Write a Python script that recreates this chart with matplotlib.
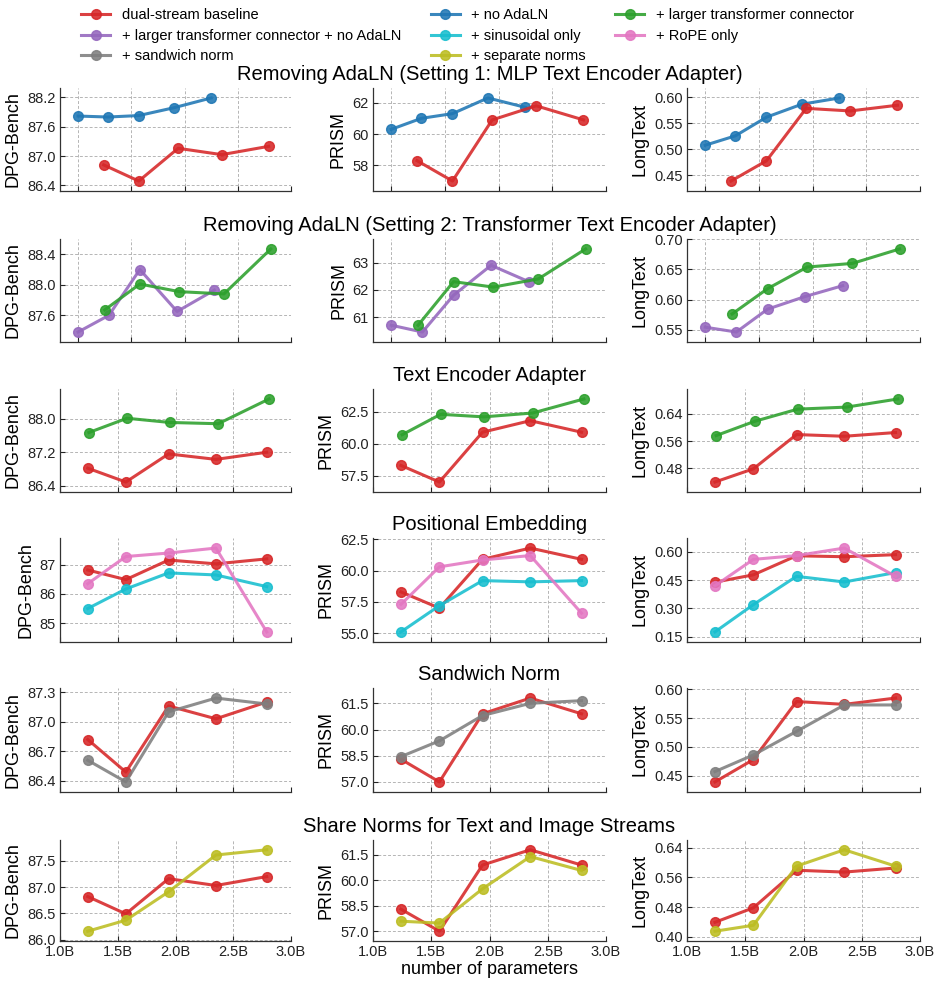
import matplotlib
matplotlib.use("Agg")
import matplotlib.pyplot as plt
from matplotlib.lines import Line2D

plt.rcParams['font.family'] = ['Liberation Sans', 'DejaVu Sans']

# ---------------- data ----------------
x_base = [1.24, 1.57, 1.94, 2.35, 2.79]
x_no_adaln = [1.00, 1.28, 1.57, 1.90, 2.25]
x_larger = [1.25, 1.58, 1.95, 2.37, 2.81]
x_larger_no_adaln = [1.00, 1.29, 1.58, 1.93, 2.28]

base_dpg = [86.82, 86.49, 87.16, 87.03, 87.20]
base_prism = [58.3, 57.0, 60.9, 61.8, 60.9]
base_long = [0.439, 0.478, 0.579, 0.574, 0.585]

no_adaln_dpg = [87.82, 87.80, 87.83, 87.99, 88.19]
no_adaln_prism = [60.3, 61.0, 61.3, 62.3, 61.7]
no_adaln_long = [0.508, 0.526, 0.562, 0.587, 0.599]

larger_dpg = [87.67, 88.01, 87.91, 87.88, 88.47]
larger_prism = [60.7, 62.3, 62.1, 62.4, 63.5]
larger_long = [0.576, 0.618, 0.654, 0.660, 0.684]

larger_no_adaln_dpg = [87.38, 87.60, 88.20, 87.65, 87.93]
larger_no_adaln_prism = [60.7, 60.45, 61.8, 62.9, 62.3]
larger_no_adaln_long = [0.554, 0.546, 0.584, 0.605, 0.623]

sin_dpg = [85.50, 86.17, 86.72, 86.65, 86.25]
sin_prism = [55.1, 57.2, 59.2, 59.1, 59.2]
sin_long = [0.175, 0.320, 0.470, 0.440, 0.490]

rope_dpg = [86.35, 87.28, 87.40, 87.57, 84.70]
rope_prism = [57.3, 60.3, 60.85, 61.2, 56.6]
rope_long = [0.420, 0.560, 0.580, 0.620, 0.470]

sandwich_dpg = [86.61, 86.39, 87.10, 87.24, 87.18]
sandwich_prism = [58.45, 59.35, 60.8, 61.5, 61.65]
sandwich_long = [0.457, 0.486, 0.527, 0.573, 0.573]

sep_dpg = [86.16, 86.37, 86.91, 87.61, 87.71]
sep_prism = [57.59, 57.48, 59.50, 61.40, 60.58]
sep_long = [0.415, 0.431, 0.590, 0.634, 0.590]

row_titles = [
    "Removing AdaLN (Setting 1: MLP Text Encoder Adapter)",
    "Removing AdaLN (Setting 2: Transformer Text Encoder Adapter)",
    "Text Encoder Adapter",
    "Positional Embedding",
    "Sandwich Norm",
    "Share Norms for Text and Image Streams",
]
metric_labels = ["DPG-Bench", "PRISM", "LongText"]
x_ticks = [1.0, 1.5, 2.0, 2.5, 3.0]
x_ticklabels = ["1.0B", "1.5B", "2.0B", "2.5B", "3.0B"]

y_ticks = [
    [[86.4, 87.0, 87.6, 88.2], [58, 60, 62], [0.45, 0.50, 0.55, 0.60]],
    [[87.6, 88.0, 88.4], [61, 62, 63], [0.55, 0.60, 0.65, 0.70]],
    [[86.4, 87.2, 88.0], [57.5, 60.0, 62.5], [0.48, 0.56, 0.64]],
    [[85, 86, 87], [55.0, 57.5, 60.0, 62.5], [0.15, 0.30, 0.45, 0.60]],
    [[86.4, 86.7, 87.0, 87.3], [57.0, 58.5, 60.0, 61.5], [0.45, 0.50, 0.55, 0.60]],
    [[86.0, 86.5, 87.0, 87.5], [57.0, 58.5, 60.0, 61.5], [0.40, 0.48, 0.56, 0.64]],
]
y_fmt = [
    ["{:.1f}", "{:.0f}", "{:.2f}"],
    ["{:.1f}", "{:.0f}", "{:.2f}"],
    ["{:.1f}", "{:.1f}", "{:.2f}"],
    ["{:.0f}", "{:.1f}", "{:.2f}"],
    ["{:.1f}", "{:.1f}", "{:.2f}"],
    ["{:.1f}", "{:.1f}", "{:.2f}"],
]

colors = {
    "base": "#d62728", "no_adaln": "#1f77b4", "larger": "#2ca02c",
    "larger_no_adaln": "#9467bd", "sin": "#17becf", "rope": "#e377c2",
    "sandwich": "#7f7f7f", "sep": "#bcbd22",
}
labels = {
    "base": "dual-stream baseline", "no_adaln": "+ no AdaLN",
    "larger": "+ larger transformer connector",
    "larger_no_adaln": "+ larger transformer connector + no AdaLN",
    "sin": "+ sinusoidal only", "rope": "+ RoPE only",
    "sandwich": "+ sandwich norm", "sep": "+ separate norms",
}

# each row: list of (key, x, [dpg, prism, long])
rows = [
    [("no_adaln", x_no_adaln, [no_adaln_dpg, no_adaln_prism, no_adaln_long]),
     ("base", x_base, [base_dpg, base_prism, base_long])],
    [("larger_no_adaln", x_larger_no_adaln, [larger_no_adaln_dpg, larger_no_adaln_prism, larger_no_adaln_long]),
     ("larger", x_larger, [larger_dpg, larger_prism, larger_long])],
    [("base", x_base, [base_dpg, base_prism, base_long]),
     ("larger", x_larger, [larger_dpg, larger_prism, larger_long])],
    [("base", x_base, [base_dpg, base_prism, base_long]),
     ("sin", x_base, [sin_dpg, sin_prism, sin_long]),
     ("rope", x_base, [rope_dpg, rope_prism, rope_long])],
    [("base", x_base, [base_dpg, base_prism, base_long]),
     ("sandwich", x_base, [sandwich_dpg, sandwich_prism, sandwich_long])],
    [("base", x_base, [base_dpg, base_prism, base_long]),
     ("sep", x_base, [sep_dpg, sep_prism, sep_long])],
]

# ---------------- layout ----------------
W, H = 941, 986
fig = plt.figure(figsize=(W / 100, H / 100), dpi=100)
col_px = [(60, 291), (373, 606), (687, 920)]
row_px = [(88, 191), (239, 342), (389, 492), (538, 642), (688, 792), (840, 941)]

for r, series in enumerate(rows):
    for c in range(3):
        x0, x1 = col_px[c]
        yt, yb = row_px[r]
        ax = fig.add_axes([x0 / W, 1 - yb / H, (x1 - x0) / W, (yb - yt) / H])
        for key, xs, vals in series:
            ax.plot(xs, vals[c], color=colors[key], marker="o", markersize=7,
                    linewidth=2.2, alpha=0.88, zorder=3)
        ax.margins(y=0.12)
        ax.set_xlim(0.83 if r < 2 else 1.0, 3.0)
        ax.set_xticks(x_ticks)
        if r == len(rows) - 1:
            ax.set_xticklabels(x_ticklabels)
        else:
            ax.set_xticklabels([])
        ax.set_yticks(y_ticks[r][c])
        ax.set_yticklabels([y_fmt[r][c].format(v) for v in y_ticks[r][c]])
        ax.set_ylabel(metric_labels[c], fontsize=13, labelpad=4)
        ax.tick_params(direction="in", length=3.5, width=0.8, labelsize=10.5,
                       colors="#222222", pad=3)
        ax.grid(True, linestyle=(0, (3, 2)), color="#b5b5b5", linewidth=0.7, zorder=0)
        for s in ("top", "right"):
            ax.spines[s].set_visible(False)
        for s in ("left", "bottom"):
            ax.spines[s].set_color("#333333")
            ax.spines[s].set_linewidth(0.9)
        if c == 1:
            ax.set_title(row_titles[r], fontsize=14.5, pad=5.5)
            if r == len(rows) - 1:
                ax.set_xlabel("number of parameters", fontsize=13, labelpad=1)

# legend (row-major order displayed in 3 columns)
order = ["base", "larger_no_adaln", "sandwich",
         "no_adaln", "sin", "sep",
         "larger", "rope"]
handles = [Line2D([], [], color=colors[k], marker="o", markersize=7,
                  linewidth=2.2, alpha=0.88) for k in order]
fig.legend(handles, [labels[k] for k in order], loc="upper center",
           bbox_to_anchor=(0.497, 1.005), ncol=3, frameon=False, fontsize=10.5,
           handlelength=2.0, labelspacing=0.45, columnspacing=2.0)

fig.savefig("out.png", dpi=100)
